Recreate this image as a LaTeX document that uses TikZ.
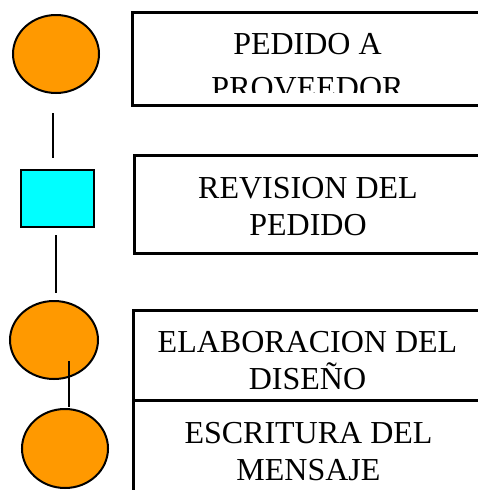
\documentclass[tikz,border=0pt]{standalone}
\usepackage{fontspec}
\setmainfont{Liberation Serif}
\usetikzlibrary{shapes.geometric}
\definecolor{stepor}{RGB}{255,153,0}
\definecolor{stepcy}{RGB}{0,255,255}
\tikzset{
  event/.style={ellipse, draw=black, line width=2pt, fill=stepor, inner sep=0pt},
  check/.style={rectangle, draw=black, line width=2pt, fill=stepcy, inner sep=0pt},
  panel/.style={rectangle, draw=black, line width=3pt, inner sep=0pt},
  label/.style={align=center, inner sep=0pt, font=\fontsize{32}{37}\selectfont},
  link/.style={draw=black, line width=2pt}
}
\begin{document}
\begin{tikzpicture}[x=1pt,y=-1pt]
\useasboundingbox (0,0) rectangle (478,490);
\clip (0,0) rectangle (478,490);
% panels
\node[panel, minimum width=350pt, minimum height=93pt] (p1) at (307.5,59) {};
\node[panel, minimum width=350pt, minimum height=98pt] (p2) at (309,204.5) {};
\node[panel, minimum width=350pt, minimum height=90pt] (p3) at (308.5,355.5) {};
\node[panel, minimum width=350pt, minimum height=100pt] (p4) at (308.5,450.5) {};
% labels
\begin{scope}
\clip (134,14) rectangle (480,92);
\node[label] (t1) at (307.5,66.2) {PEDIDO A\\[6.5pt]PROVEEDOR};
\end{scope}
\node[label] (t2) at (308,206.9) {REVISION DEL\\PEDIDO};
\node[label] (t3) at (307.5,360.9) {ELABORACION DEL\\DISEÑO};
\node[label] (t4) at (308.5,451.9) {ESCRITURA DEL\\MENSAJE};
% symbols
\node[event, minimum width=86pt, minimum height=78pt] (c1) at (56,54) {};
\node[check, minimum width=73pt, minimum height=57pt] (s1) at (57.5,198.5) {};
\node[event, minimum width=88pt, minimum height=78pt] (c2) at (54,340) {};
\node[event, minimum width=86pt, minimum height=79pt] (c3) at (65,448.5) {};
% connectors
\coordinate (a1) at (53,113);
\coordinate (a2) at (53,158);
\coordinate (b1) at (56,235);
\coordinate (b2) at (56,293);
\coordinate (d1) at (69,361);
\coordinate (d2) at (69,407);
\draw[link] (a1) -- (a2);
\draw[link] (b1) -- (b2);
\draw[link] (d1) -- (d2);
\end{tikzpicture}
\end{document}
